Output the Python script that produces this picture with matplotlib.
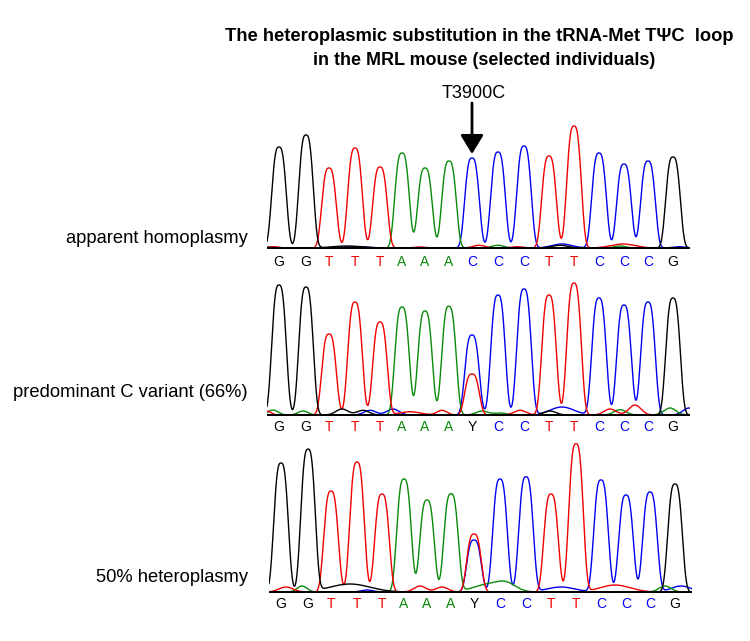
import numpy as np
import matplotlib
matplotlib.use('Agg')
import matplotlib.pyplot as plt

# base calls, shared by all three traces
bases = ['G', 'G', 'T', 'T', 'T', 'A', 'A', 'A', 'Y', 'C', 'C', 'T', 'T', 'C', 'C', 'C', 'G']
# scan position of each called peak
peak_scan = [0, 27, 50, 76, 101, 123, 146, 170, 193, 219, 245, 270, 295, 320, 345, 369, 394]

# main peak heights (one per base); the Y position has a C and a T signal
heights_homo = [101, 113, 80, 100, 81, 95, 80, 87, 90, 96, 102, 92, 122, 95, 84, 87, 91]
heights_c66 = [130, 128, 81, 113, 93, 108, 104, 106, 80, 120, 126, 120, 132, 117, 110, 113, 117]
heights_50 = [129, 142, 101, 130, 98, 113, 92, 98, 52, 113, 115, 98, 148, 112, 97, 100, 108]
y_t_signal = [0, 41, 58]      # red (T) height under the Y call per trace
calls_first = ['C', 'Y', 'Y']  # label at the mutation site per trace

# minor background signal: (channel, scan, height, width)
noise_homo = [('A', -8, 1.3, 5), ('T', -6, 1.3, 5), ('G', 68, 2, 15), ('C', 75, 1.3, 12),
              ('T', 141, 1, 6), ('T', 200, 2.7, 6), ('A', 219, 2.7, 6), ('T', 238, 1.3, 6),
              ('C', 283, 4, 10), ('G', 281, 2.7, 8), ('T', 344, 4, 12), ('A', 341, 2, 6),
              ('C', 400, 1.3, 6)]
noise_c66 = [('A', -6, 5, 5), ('T', -12, 4, 4), ('A', 24, 4, 5), ('G', 63, 6, 6), ('G', 84, 4.7, 6),
             ('C', 91, 4.7, 6), ('C', 114, 6, 6), ('T', 131, 3.3, 10), ('T', 163, 4.7, 5),
             ('A', 168, 3, 5), ('A', 203, 4, 6), ('A', 221, 2, 6), ('T', 241, 4.7, 6),
             ('C', 283, 8, 12), ('G', 271, 4, 6), ('T', 331, 6, 6), ('A', 341, 5.3, 6),
             ('T', 356, 10, 6), ('A', 391, 7, 6), ('C', 410, 7, 6)]
noise_50 = [('T', 5, 5, 7), ('A', 21, 6, 5), ('G', 69, 8, 20), ('C', 86, 2, 6), ('T', 139, 6, 6),
            ('T', 161, 5, 6), ('A', 205, 7, 14), ('A', 225, 8, 10), ('C', 280, 5, 14),
            ('T', 334, 7, 15), ('C', 400, 6, 10), ('A', 384, 6, 6), ('T', 428, 100, 8.6)]

labels = ['apparent homoplasmy', 'predominant C variant (66%)', '50% heteroplasmy']

colors = {'G': '#000000', 'A': '#0a8a0a', 'C': '#0000f0', 'T': '#f00000', 'Y': '#000000'}
peak_w = 8.6   # peak half-width scale (scan units)
peak_p = 3.0   # peak shape exponent

fam = ['Liberation Sans', 'DejaVu Sans']

W, H = 750, 641
fig = plt.figure(figsize=(W / 100, H / 100), dpi=100)

# overlay in pixel coordinates for free text and the arrow
ov = fig.add_axes([0, 0, 1, 1])
ov.set_xlim(0, W)
ov.set_ylim(H, 0)
ov.axis('off')

ov.text(479, 41, 'The heteroplasmic substitution in the tRNA-Met T\u03a8C  loop',
        ha='center', va='baseline', fontsize=13.2, fontweight='bold', family=fam)
ov.text(484, 65, 'in the MRL mouse (selected individuals)',
        ha='center', va='baseline', fontsize=12.9, fontweight='bold', family=fam)
ov.text(474, 98, 'T3900C', ha='center', va='baseline', fontsize=13, family=fam)
ov.annotate('', xy=(472, 154), xytext=(472, 103),
            arrowprops=dict(arrowstyle='-|>,head_length=1.15,head_width=0.7',
                            color='black', lw=2, shrinkA=0, shrinkB=0))


def peak(x, p, h):
    return h * np.exp(-np.abs((x - p) / peak_w) ** peak_p)


def trace(x, heights, y_t, noise):
    chans = {ch: np.zeros_like(x) for ch in 'GATC'}
    for b, p, h in zip(bases, peak_scan, heights):
        ch = 'C' if b == 'Y' else b
        chans[ch] += peak(x, p, h)
        if b == 'Y' and y_t > 0:
            chans['T'] += peak(x, p, y_t)
    for ch, p, h, w in noise:
        if h > 50:
            chans[ch] += peak(x, p, h)
        else:
            chans[ch] += h * np.exp(-(x - p) ** 2 / (2 * w ** 2))
    return chans


panel_base = [248, 415, 592]   # baseline pixel row of each trace
panel_shift = [0, 0, 2]
label_base = [243, 397, 582]
letter_gap = [14, 12, 12]
all_heights = [heights_homo, heights_c66, heights_50]
all_noise = [noise_homo, noise_c66, noise_50]

x = np.linspace(-12, 411, 1500)
for i in range(3):
    left = 267 + panel_shift[i]
    right = 690 + panel_shift[i]
    bottom = panel_base[i] + 3
    top = panel_base[i] - 157
    ax = fig.add_axes([left / W, 1 - bottom / H, (right - left) / W, (bottom - top) / H])
    ax.set_xlim(-12, 411)
    ax.set_ylim(-3, 157)
    ax.axis('off')
    chans = trace(x, all_heights[i], y_t_signal[i], all_noise[i])
    for ch in ['C', 'A', 'T', 'G']:
        ax.plot(x, chans[ch], color=colors[ch], lw=1.0, zorder=2)
    ax.axhline(0, color='black', lw=1.4, zorder=3)
    for b, p in zip(bases, peak_scan):
        call = calls_first[i] if b == 'Y' else b
        ax.text(p, -letter_gap[i], call, color=colors[call], ha='center', va='center',
                fontsize=10, family=fam, clip_on=False)
    ov.text(248, label_base[i], labels[i], ha='right', va='baseline', fontsize=13.2, family=fam)

fig.savefig('out.png', dpi=100)
